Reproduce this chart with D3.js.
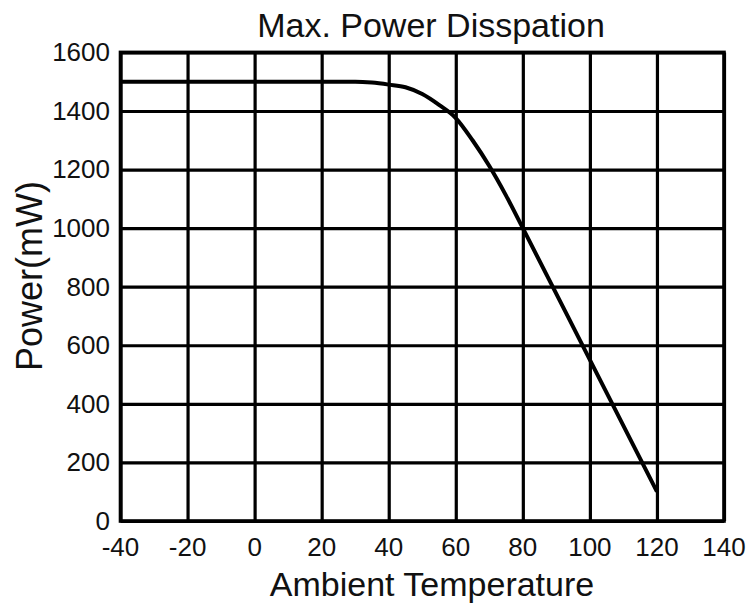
<!DOCTYPE html>
<html>
<head>
<meta charset="utf-8">
<script src="https://cdn.jsdelivr.net/npm/d3@7"></script>
<style>
  html, body { margin: 0; padding: 0; background: #fff; }
  svg { display: block; }
  text { font-family: "Liberation Sans", Arial, sans-serif; fill: #111; }
</style>
</head>
<body>
<svg id="chart" width="748" height="603"></svg>
<script>
// Derating curve: ambient temperature (°C) vs. maximum power dissipation (mW)
const temperature = [-40, -20, 0, 20, 30, 35, 40, 45, 50, 55, 60, 65, 70, 75, 80, 100, 120];
const power       = [1500, 1500, 1500, 1500, 1500, 1497, 1490, 1481, 1458, 1421, 1376, 1300, 1212, 1111, 1000, 550, 100];

const xTicks = [-40, -20, 0, 20, 40, 60, 80, 100, 120, 140];
const yTicks = [0, 200, 400, 600, 800, 1000, 1200, 1400, 1600];

const chartTitle = "Max. Power Disspation";
const xTitle = "Ambient Temperature";
const yTitle = "Power(mW)";

const svg = d3.select("#chart");
const plot = { left: 120.5, right: 724, top: 52.4, bottom: 521 };

const x = d3.scaleLinear().domain([-40, 140]).range([plot.left, plot.right]);
const y = d3.scaleLinear().domain([0, 1600]).range([plot.bottom, plot.top]);

// vertical grid lines
svg.append("g")
  .attr("transform", `translate(0,${plot.bottom})`)
  .call(d3.axisBottom(x).tickValues(xTicks).tickSize(-(plot.bottom - plot.top)).tickFormat(""))
  .call(g => g.select(".domain").remove())
  .call(g => g.selectAll("line").attr("stroke", "#000").attr("stroke-width", 3.2));

// horizontal grid lines
svg.append("g")
  .attr("transform", `translate(${plot.left},0)`)
  .call(d3.axisLeft(y).tickValues(yTicks).tickSize(-(plot.right - plot.left)).tickFormat(""))
  .call(g => g.select(".domain").remove())
  .call(g => g.selectAll("line").attr("stroke", "#000").attr("stroke-width", 3.2));

// frame
svg.append("rect")
  .attr("x", plot.left).attr("y", plot.top)
  .attr("width", plot.right - plot.left).attr("height", plot.bottom - plot.top)
  .attr("fill", "none").attr("stroke", "#000").attr("stroke-width", 3.6);

// tick labels
svg.append("g").selectAll("text").data(xTicks).join("text")
  .attr("x", d => x(d)).attr("y", 556)
  .attr("text-anchor", "middle").attr("font-size", 26)
  .text(d => d);

svg.append("g").selectAll("text").data(yTicks).join("text")
  .attr("x", 110).attr("y", d => y(d)).attr("dy", "0.34em")
  .attr("text-anchor", "end").attr("font-size", 26)
  .text(d => d);

// curve
const pts = temperature.map((t, i) => [t, power[i]]);
const line = d3.line().x(d => x(d[0])).y(d => y(d[1])).curve(d3.curveMonotoneX);
svg.append("path")
  .datum(pts)
  .attr("d", line)
  .attr("fill", "none").attr("stroke", "#000").attr("stroke-width", 4)
  .attr("stroke-linejoin", "round");

// titles
svg.append("text")
  .attr("x", 431).attr("y", 37)
  .attr("text-anchor", "middle").attr("font-size", 34)
  .text(chartTitle);

svg.append("text")
  .attr("x", 432).attr("y", 596)
  .attr("text-anchor", "middle").attr("font-size", 34)
  .text(xTitle);

svg.append("text")
  .attr("transform", "translate(42,276) rotate(-90)")
  .attr("text-anchor", "middle").attr("font-size", 36)
  .text(yTitle);
</script>
</body>
</html>
